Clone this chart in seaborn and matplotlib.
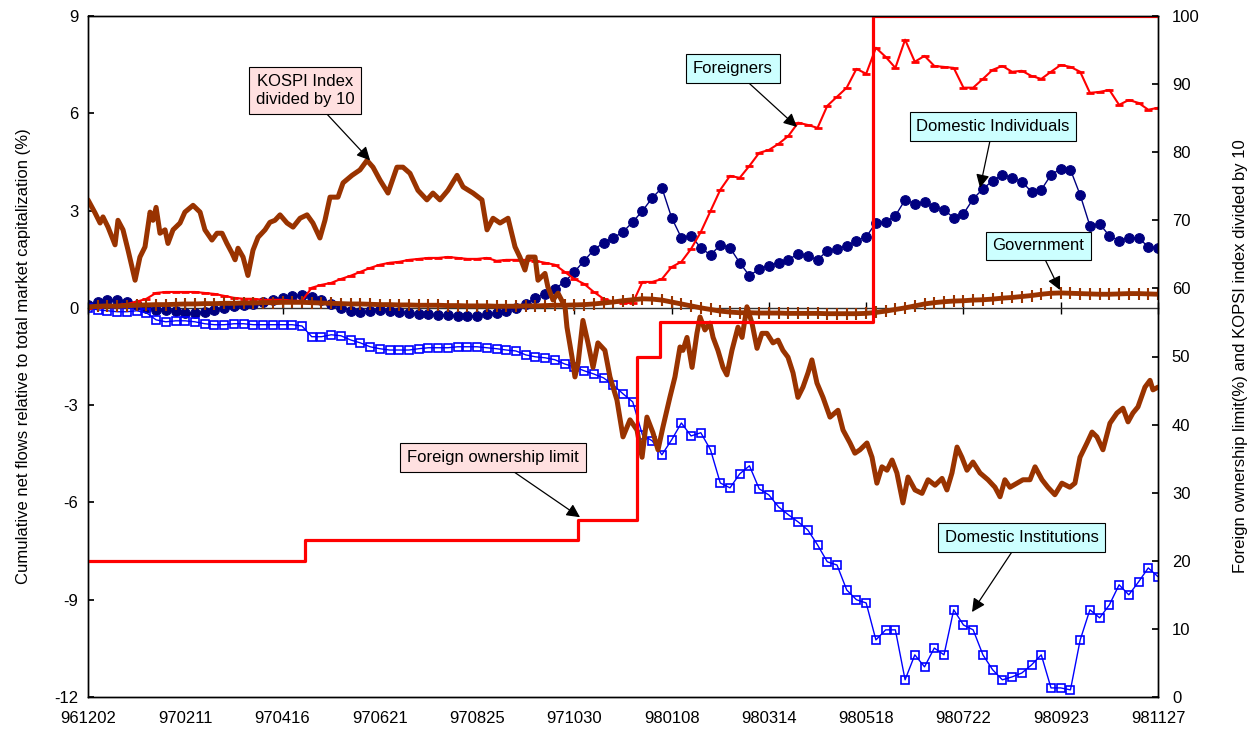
import matplotlib
matplotlib.use("Agg")
import matplotlib.pyplot as plt
import seaborn as sns

# ---------------- data ----------------
tick_labels = ["961202", "970211", "970416", "970621", "970825", "971030",
               "980108", "980314", "980518", "980722", "980923", "981127"]
tick_days = list(range(0, 551, 50))

# trading-day index (5-day sampling) for the flow series
days = list(range(0, 551, 5))

foreigners = [0.00, 0.03, 0.06, 0.09, 0.12, 0.19, 0.28, 0.46, 0.49, 0.49,
              0.49, 0.49, 0.46, 0.43, 0.37, 0.31, 0.28, 0.28, 0.25, 0.25,
              0.25, 0.22, 0.22, 0.62, 0.71, 0.77, 0.89, 0.99, 1.11, 1.23,
              1.33, 1.39, 1.42, 1.48, 1.51, 1.54, 1.54, 1.57, 1.54, 1.51,
              1.51, 1.54, 1.45, 1.48, 1.48, 1.48, 1.45, 1.39, 1.33, 1.11,
              0.89, 0.74, 0.49, 0.28, 0.19, 0.15, 0.15, 0.80, 0.80, 0.89,
              1.26, 1.42, 1.82, 2.34, 2.99, 3.64, 4.07, 4.01, 4.38, 4.78,
              4.87, 5.06, 5.30, 5.71, 5.64, 5.55, 6.23, 6.51, 6.79, 7.37,
              7.22, 8.02, 7.74, 7.40, 8.27, 7.59, 7.77, 7.46, 7.43, 7.40,
              6.79, 6.79, 7.06, 7.34, 7.46, 7.28, 7.31, 7.15, 7.06, 7.28,
              7.49, 7.43, 7.28, 6.63, 6.66, 6.72, 6.26, 6.41, 6.32, 6.11,
              6.17]

individuals = [0.09, 0.19, 0.25, 0.25, 0.19, 0.09, 0.00, -0.06, -0.06, -0.09,
               -0.15, -0.15, -0.12, -0.06, 0.00, 0.06, 0.09, 0.12, 0.19, 0.25,
               0.31, 0.37, 0.40, 0.34, 0.25, 0.12, 0.00, -0.09, -0.12, -0.09,
               -0.06, -0.09, -0.12, -0.15, -0.19, -0.19, -0.22, -0.22, -0.25, -0.25,
               -0.25, -0.19, -0.15, -0.09, 0.00, 0.12, 0.31, 0.43, 0.59, 0.80,
               1.11, 1.45, 1.79, 2.01, 2.16, 2.34, 2.65, 2.99, 3.39, 3.70,
               2.78, 2.16, 2.22, 1.85, 1.63, 1.94, 1.85, 1.39, 0.99, 1.20,
               1.30, 1.39, 1.48, 1.67, 1.60, 1.48, 1.76, 1.82, 1.91, 2.07,
               2.19, 2.62, 2.65, 2.84, 3.33, 3.21, 3.27, 3.11, 3.02, 2.78,
               2.90, 3.36, 3.67, 3.92, 4.10, 4.01, 3.89, 3.58, 3.64, 4.10,
               4.29, 4.26, 3.48, 2.53, 2.59, 2.22, 2.07, 2.16, 2.16, 1.88,
               1.85]

government = [0.03, 0.05, 0.06, 0.05, 0.07, 0.08, 0.09, 0.10, 0.10, 0.11,
              0.12, 0.12, 0.13, 0.13, 0.14, 0.14, 0.15, 0.15, 0.16, 0.16,
              0.17, 0.17, 0.17, 0.16, 0.15, 0.14, 0.13, 0.12, 0.12, 0.11,
              0.10, 0.10, 0.09, 0.09, 0.08, 0.08, 0.08, 0.07, 0.07, 0.06,
              0.06, 0.06, 0.05, 0.05, 0.05, 0.06, 0.06, 0.07, 0.08, 0.08,
              0.09, 0.10, 0.12, 0.15, 0.18, 0.22, 0.25, 0.28, 0.27, 0.24,
              0.18, 0.12, 0.06, 0.00, -0.05, -0.10, -0.13, -0.15, -0.15, -0.16,
              -0.16, -0.16, -0.17, -0.17, -0.17, -0.17, -0.18, -0.18, -0.18, -0.18,
              -0.17, -0.14, -0.10, -0.05, 0.00, 0.06, 0.12, 0.16, 0.19, 0.21,
              0.22, 0.24, 0.25, 0.27, 0.30, 0.32, 0.35, 0.38, 0.42, 0.45,
              0.46, 0.45, 0.44, 0.43, 0.42, 0.42, 0.43, 0.44, 0.44, 0.43,
              0.42]

institutions = [0.00, -0.06, -0.09, -0.12, -0.12, -0.09, -0.15, -0.37, -0.43, -0.40,
                -0.40, -0.43, -0.49, -0.52, -0.52, -0.49, -0.49, -0.52, -0.52, -0.52,
                -0.52, -0.52, -0.56, -0.89, -0.89, -0.83, -0.86, -0.99, -1.08, -1.20,
                -1.26, -1.30, -1.30, -1.30, -1.26, -1.23, -1.23, -1.23, -1.20, -1.20,
                -1.20, -1.23, -1.26, -1.30, -1.33, -1.45, -1.51, -1.54, -1.60, -1.73,
                -1.82, -1.94, -2.04, -2.16, -2.38, -2.65, -2.90, -3.92, -4.10, -4.53,
                -4.07, -3.55, -3.95, -3.85, -4.38, -5.40, -5.55, -5.12, -4.87, -5.58,
                -5.77, -6.14, -6.38, -6.60, -6.85, -7.31, -7.83, -7.93, -8.70, -9.00,
                -9.10, -10.24, -9.93, -9.93, -11.47, -10.70, -11.07, -10.49, -10.70, -9.31,
                -9.78, -9.93, -10.70, -11.16, -11.47, -11.38, -11.26, -11.01, -10.70, -11.72,
                -11.72, -11.78, -10.24, -9.31, -9.56, -9.16, -8.54, -8.85, -8.45, -8.02,
                -8.29]

# KOSPI index / 10 (right axis), traced points
kospi_days = [0, 3.6, 6.2, 7.7, 10.3, 13.9, 15.4, 18.0, 20.6, 24.2,
              26.7, 29.3, 31.9, 33.4, 35.0, 37.0, 39.6, 41.1, 43.7, 47.3,
              49.8, 54.0, 57.6, 60.1, 63.7, 66.3, 68.9, 71.4, 74.0, 75.6,
              77.1, 79.7, 82.2, 84.8, 87.4, 91.0, 93.5, 96.1, 98.7, 102.3,
              105.4, 109.0, 112.6, 115.6, 119.2, 121.8, 124.4, 128.5, 131.1, 135.7,
              139.8, 143.4, 146.5, 150.1, 154.2, 158.8, 161.9, 165.5, 169.6, 174.2,
              177.3, 180.9, 185.0, 189.7, 192.8, 197.9, 202.5, 205.1, 208.2, 211.8,
              215.9, 219.5, 222.0, 224.6, 226.2, 229.8, 231.3, 234.9, 236.4, 239.0,
              241.6, 245.2, 246.2, 248.8, 250.3, 251.9, 254.4, 257.0, 259.6, 262.1,
              265.7, 268.3, 271.9, 275.0, 278.6, 282.2, 284.8, 287.3, 290.4, 293.0,
              295.5, 299.1, 301.7, 304.3, 305.8, 307.9, 310.5, 313.0, 314.6, 317.1,
              319.7, 321.3, 323.8, 326.4, 328.4, 331.0, 334.1, 336.2, 338.7, 341.3,
              343.9, 346.4, 349.0, 352.1, 354.7, 357.2, 359.8, 362.4, 364.9, 367.5,
              370.1, 372.1, 374.7, 377.8, 381.4, 385.5, 388.1, 391.7, 394.2, 396.8,
              400.4, 403.0, 405.5, 408.1, 410.7, 413.3, 415.8, 418.9, 421.5, 425.1,
              428.7, 431.8, 435.4, 439.0, 441.5, 444.1, 446.7, 449.2, 451.8, 454.9,
              458.5, 462.6, 466.2, 468.8, 471.3, 473.9, 477.5, 480.6, 484.2, 486.8,
              490.4, 493.4, 497.0, 500.6, 504.7, 507.3, 509.9, 513.5, 516.1, 518.6,
              521.7, 525.3, 528.9, 532.0, 534.6, 537.1, 539.7, 543.3, 545.9, 547.4,
              550]
kospi = [73.0, 71.1, 69.6, 70.5, 69.0, 66.4, 70.0, 68.6, 65.6, 61.2,
         64.6, 66.1, 71.2, 70.0, 71.9, 68.1, 68.6, 66.6, 68.6, 69.6,
         71.2, 72.2, 71.2, 68.6, 67.1, 68.1, 68.1, 66.6, 65.2, 64.2,
         65.9, 64.6, 61.9, 65.6, 67.5, 68.6, 69.7, 70.0, 70.8, 69.6,
         69.0, 70.3, 70.8, 69.6, 67.4, 70.0, 73.4, 73.4, 75.5, 76.6,
         77.4, 78.8, 77.8, 75.9, 74.0, 77.8, 77.8, 76.9, 74.4, 73.0,
         74.0, 73.0, 74.4, 76.6, 74.9, 74.0, 73.0, 68.6, 70.3, 69.6,
         70.3, 66.1, 64.6, 62.7, 64.6, 64.6, 61.2, 62.2, 60.2, 58.3,
         59.3, 57.3, 54.3, 49.9, 47.0, 49.0, 55.3, 52.0, 48.4, 52.0,
         50.9, 47.0, 43.6, 38.2, 40.7, 39.2, 35.2, 41.1, 38.8, 36.3,
         39.6, 44.0, 47.0, 51.4, 50.9, 52.8, 48.4, 53.4, 55.8, 53.9,
         54.9, 52.8, 50.9, 48.4, 47.3, 50.9, 54.3, 52.8, 57.3, 54.9,
         51.2, 53.4, 53.4, 52.0, 52.4, 50.9, 49.9, 47.6, 44.0, 45.5,
         47.6, 49.5, 46.1, 44.0, 41.1, 42.1, 39.2, 37.3, 35.8, 36.3,
         37.3, 35.2, 31.4, 33.8, 33.3, 34.8, 32.9, 28.5, 32.3, 30.4,
         29.9, 31.9, 31.1, 32.1, 30.4, 32.9, 36.7, 35.2, 33.3, 34.5,
         32.9, 31.9, 30.8, 29.4, 31.9, 30.8, 31.4, 31.9, 31.9, 33.8,
         31.9, 30.8, 29.7, 31.4, 30.8, 31.4, 35.2, 37.3, 38.9, 38.2,
         36.3, 40.2, 41.7, 42.4, 40.4, 41.7, 42.6, 45.5, 46.5, 45.1,
         45.5]

# foreign ownership limit (%) step changes
limit_days = [0, 111.5, 251.9, 282.2, 294.0, 403.5, 550]
limit_vals = [20, 23, 26, 50, 55, 100, 100]

# ---------------- style ----------------
sns.set_theme(style="ticks")
plt.rcParams["font.family"] = ["Liberation Sans", "DejaVu Sans"]
plt.rcParams["axes.unicode_minus"] = False

W, H = 1249, 740
fig = plt.figure(figsize=(W / 100, H / 100), dpi=100)
ax = fig.add_axes([88 / W, 1 - 697 / H, 1070 / W, 681 / H])
ax2 = ax.twinx()

BROWN = "#993300"
NAVY = "#000080"
BLUE = "#0000ff"
RED = "#ff0000"

# left-axis series
sns.lineplot(x=days, y=individuals, ax=ax, color=NAVY, lw=1.0, marker="o",
             markersize=7, mec=NAVY, mfc=NAVY, estimator=None, sort=False)
sns.lineplot(x=days, y=institutions, ax=ax, color=BLUE, lw=1.0, marker="s",
             markersize=6.3, mfc="none", mec=BLUE, mew=1.2, estimator=None, sort=False)
sns.lineplot(x=days, y=foreigners, ax=ax, color=RED, lw=1.5, marker="_",
             markersize=6, mew=2.0, mec=RED, estimator=None, sort=False)
sns.lineplot(x=days, y=government, ax=ax, color=BROWN, lw=3.5, marker="|",
             markersize=8, mew=1.5, mec=BROWN, estimator=None, sort=False)

# right-axis series
sns.lineplot(x=kospi_days, y=kospi, ax=ax2, color=BROWN, lw=3.6,
             estimator=None, sort=False)
sns.lineplot(x=limit_days, y=limit_vals, ax=ax2, color=RED, lw=2.3,
             drawstyle="steps-post", estimator=None, sort=False)

# axes
ax.set_xlim(0, 550)
ax.set_ylim(-12, 9)
ax.set_yticks(range(-12, 10, 3))
ax2.set_ylim(0, 100)
ax2.set_yticks(range(0, 101, 10))
ax.set_xticks(tick_days)
ax.set_xticklabels(tick_labels)
ax.tick_params(axis="x", length=0, labelsize=12, pad=10, colors="black")
ax.tick_params(axis="y", direction="in", length=4, labelsize=12, left=True,
               colors="black", pad=7)
ax2.tick_params(axis="y", direction="in", length=4, labelsize=12, right=True,
                colors="black", pad=10)
for a in (ax, ax2):
    for s in a.spines.values():
        s.set_color("black")
        s.set_linewidth(1.0)
        s.set_visible(True)

ax.set_xlabel("")
ax.set_ylabel("Cumulative net flows relative to total market capitalization (%)",
              fontsize=12, color="black", labelpad=17)
ax2.set_ylabel("Foreign ownership limit(%) and KOPSI index divided by 10",
               fontsize=12, color="black", labelpad=24)

# zero line with category ticks
zero_frac = 12 / 21
sec = ax.secondary_xaxis(zero_frac)
sec.set_xticks(tick_days)
sec.xaxis.set_ticklabels([])
sec.tick_params(axis="x", direction="inout", length=9, width=1, colors="black")
for s in sec.spines.values():
    s.set_color("#333333")
    s.set_linewidth(1.0)

# annotations
arrow = dict(arrowstyle="-|>", color="black", lw=0.9, mutation_scale=20,
             shrinkA=0, shrinkB=0)
PINK = "#ffe0e0"
CYAN = "#ccffff"


def note(text, xy, xy_axes, xytext, fc):
    ax2.annotate(text, xy=xy, xycoords=xy_axes.transData, xytext=xytext,
                 textcoords="axes fraction", ha="center", va="center",
                 fontsize=12, color="black", linespacing=1.25,
                 bbox=dict(boxstyle="square,pad=0.4", fc=fc, ec="black", lw=0.8),
                 arrowprops=arrow, zorder=10)


note("KOSPI Index\ndivided by 10", (145, 78.8), ax2, (0.2028, 0.8906), PINK)
note("Foreigners", (364.4, 5.58), ax, (0.6028, 0.9229), CYAN)
note("Domestic Individuals", (458.5, 3.70), ax, (0.8458, 0.8377), CYAN)
note("Government", (499.6, 0.55), ax, (0.8883, 0.6623), CYAN)
note("Foreign ownership limit", (252.9, 26.4), ax2, (0.3785, 0.3517), PINK)
note("Domestic Institutions", (454.4, -9.38), ax, (0.8724, 0.2342), CYAN)

fig.savefig("out.png", dpi=100)
